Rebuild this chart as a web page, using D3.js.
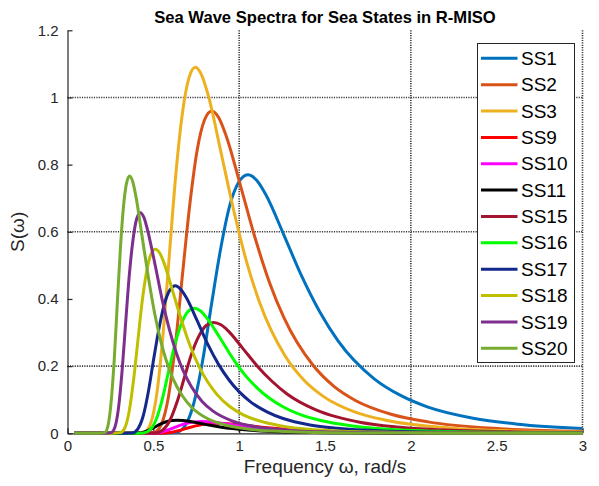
<!DOCTYPE html>
<html>
<head>
<meta charset="utf-8">
<script src="https://cdn.jsdelivr.net/npm/d3@7"></script>
<style>
  body { margin: 0; background: #fff; }
  svg { font-family: "Liberation Sans", Arial, sans-serif; }
</style>
</head>
<body>
<div id="chart"></div>
<script>
// [omega, S] pairs
let ss1 = [[0.04,0],[0.525,0],[0.63,0.002],[0.683,0.021],[0.735,0.088],[0.788,0.218],[0.84,0.388],[0.893,0.552],[0.945,0.678],[0.998,0.748],[1.05,0.77],[1.103,0.753],[1.155,0.711],[1.26,0.591],[1.365,0.467],[1.47,0.361],[1.575,0.276],[1.785,0.163],[1.943,0.112],[2.1,0.078],[2.363,0.045],[2.625,0.027],[3.0,0.014]];
let ss2 = [[0.04,0],[0.42,0],[0.504,0.003],[0.546,0.026],[0.588,0.109],[0.63,0.272],[0.672,0.484],[0.714,0.688],[0.756,0.845],[0.798,0.933],[0.84,0.96],[0.882,0.939],[0.924,0.886],[1.008,0.737],[1.092,0.583],[1.176,0.45],[1.26,0.345],[1.428,0.204],[1.554,0.139],[1.68,0.097],[1.89,0.056],[2.1,0.034],[2.52,0.0135],[2.94,0.0063],[3.0,0.0058]];
let ss3 = [[0.04,0],[0.373,0],[0.447,0.003],[0.484,0.029],[0.522,0.124],[0.559,0.308],[0.596,0.549],[0.633,0.782],[0.671,0.959],[0.708,1.059],[0.745,1.09],[0.782,1.066],[0.82,1.006],[0.894,0.837],[0.969,0.662],[1.043,0.511],[1.118,0.391],[1.267,0.231],[1.378,0.158],[1.49,0.11],[1.676,0.063],[1.863,0.038],[2.235,0.0154],[2.608,0.0072],[2.98,0.0037],[3.0,0.0036]];
let ss9 = [[0.04,0],[0.435,0],[0.522,0.0001],[0.566,0.0008],[0.609,0.0034],[0.653,0.0085],[0.696,0.0151],[0.74,0.0215],[0.783,0.0264],[0.827,0.0292],[0.87,0.03],[0.914,0.0293],[0.957,0.0277],[1.044,0.023],[1.131,0.0182],[1.218,0.0141],[1.305,0.0108],[1.479,0.0064],[1.61,0.0044],[1.74,0.003],[1.958,0.0017],[2.175,0.001],[2.61,0.0004],[3.0,0.0002]];
let ss10 = [[0.04,0],[0.39,0],[0.468,0.0001],[0.507,0.0009],[0.546,0.004],[0.585,0.0099],[0.624,0.0176],[0.663,0.0251],[0.702,0.0308],[0.741,0.034],[0.78,0.035],[0.819,0.0342],[0.858,0.0323],[0.936,0.0269],[1.014,0.0212],[1.092,0.0164],[1.17,0.0126],[1.326,0.0074],[1.443,0.0051],[1.56,0.0035],[1.755,0.002],[1.95,0.0012],[2.34,0.0005],[2.73,0.0002],[3.0,0.0001]];
let ss11 = [[0.04,0],[0.32,0],[0.384,0.0001],[0.416,0.001],[0.448,0.0044],[0.48,0.011],[0.512,0.0197],[0.544,0.028],[0.576,0.0343],[0.608,0.0379],[0.64,0.039],[0.672,0.0381],[0.704,0.036],[0.768,0.03],[0.832,0.0237],[0.896,0.0183],[0.96,0.014],[1.088,0.0083],[1.184,0.0057],[1.28,0.0039],[1.44,0.0023],[1.6,0.0014],[1.92,0.0005],[2.24,0.0003],[2.56,0.0001],[3.0,0]];
let ss15 = [[0.04,0],[0.426,0],[0.511,0.001],[0.553,0.009],[0.596,0.038],[0.638,0.093],[0.681,0.166],[0.723,0.237],[0.766,0.29],[0.808,0.321],[0.851,0.33],[0.894,0.323],[0.936,0.305],[1.021,0.253],[1.106,0.2],[1.191,0.155],[1.277,0.118],[1.447,0.07],[1.574,0.048],[1.702,0.033],[1.915,0.019],[2.128,0.0114],[2.553,0.0047],[2.979,0.0022],[3.0,0.0021]];
let ss16 = [[0.04,0],[0.369,0],[0.443,0.001],[0.48,0.01],[0.517,0.042],[0.554,0.105],[0.59,0.187],[0.627,0.267],[0.664,0.327],[0.701,0.362],[0.738,0.372],[0.775,0.364],[0.812,0.343],[0.886,0.286],[0.959,0.226],[1.033,0.174],[1.107,0.134],[1.255,0.079],[1.365,0.054],[1.476,0.038],[1.661,0.022],[1.845,0.013],[2.214,0.0052],[2.583,0.0025],[2.952,0.0013],[3.0,0.0012]];
let ss17 = [[0.04,0],[0.314,0],[0.377,0.001],[0.408,0.012],[0.44,0.05],[0.471,0.124],[0.502,0.221],[0.534,0.315],[0.565,0.386],[0.597,0.427],[0.628,0.439],[0.659,0.429],[0.691,0.405],[0.754,0.337],[0.816,0.266],[0.879,0.206],[0.942,0.158],[1.068,0.093],[1.162,0.064],[1.256,0.044],[1.413,0.025],[1.57,0.015],[1.884,0.0062],[2.198,0.0029],[2.512,0.0015],[3.0,0.0006]];
let ss18 = [[0.04,0],[0.256,0],[0.307,0.002],[0.333,0.015],[0.358,0.062],[0.384,0.155],[0.41,0.276],[0.435,0.393],[0.461,0.482],[0.486,0.533],[0.512,0.548],[0.538,0.536],[0.563,0.506],[0.614,0.421],[0.666,0.333],[0.717,0.257],[0.768,0.197],[0.87,0.116],[0.947,0.079],[1.024,0.055],[1.152,0.032],[1.28,0.019],[1.536,0.0077],[1.792,0.0036],[2.048,0.0019],[2.56,0.0006],[3.0,0.0003]];
let ss19 = [[0.04,0],[0.212,0],[0.254,0.002],[0.276,0.018],[0.297,0.075],[0.318,0.186],[0.339,0.331],[0.36,0.471],[0.382,0.578],[0.403,0.639],[0.424,0.657],[0.445,0.643],[0.466,0.606],[0.509,0.505],[0.551,0.399],[0.594,0.308],[0.636,0.236],[0.721,0.139],[0.784,0.095],[0.848,0.066],[0.954,0.038],[1.06,0.023],[1.272,0.0093],[1.484,0.0043],[1.696,0.0022],[2.12,0.0007],[2.544,0.0003],[3.0,0.0001]];
let ss20 = [[0.04,0],[0.181,0],[0.217,0.002],[0.235,0.021],[0.253,0.087],[0.272,0.217],[0.29,0.386],[0.308,0.549],[0.326,0.674],[0.344,0.745],[0.362,0.766],[0.38,0.749],[0.398,0.707],[0.434,0.588],[0.471,0.465],[0.507,0.359],[0.543,0.275],[0.615,0.162],[0.67,0.111],[0.724,0.077],[0.815,0.044],[0.905,0.027],[1.086,0.0108],[1.267,0.0051],[1.448,0.0026],[1.81,0.0008],[2.172,0.0004],[2.896,0.0001],[3.0,0.0001]];

let seriesNames = ["SS1","SS2","SS3","SS9","SS10","SS11","SS15","SS16","SS17","SS18","SS19","SS20"];
let seriesData = [ss1, ss2, ss3, ss9, ss10, ss11, ss15, ss16, ss17, ss18, ss19, ss20];
let seriesColors = ["#0072BD","#D95319","#EDB120","#FF0000","#FF00FF","#000000","#A2142F","#00FF00","#14288C","#BFBF00","#7E2F8E","#77AC30"];

let xTicks = [0, 0.5, 1, 1.5, 2, 2.5, 3];
let yTicks = [0, 0.2, 0.4, 0.6, 0.8, 1, 1.2];
let xGrid = [1, 2, 3];
let yGrid = [0.2, 0.6, 1];

let W = 599, H = 486;
let margin = {top: 30.3, right: 16.5, bottom: 52.7, left: 67.5},
    width = W - margin.left - margin.right,
    height = H - margin.top - margin.bottom;

let svg = d3.select("#chart")
            .append("svg")
                .attr("width", W)
                .attr("height", H);

let g = svg.append("g")
            .attr("transform", "translate(" + margin.left + "," + margin.top + ")");

let x = d3.scaleLinear().domain([0, 3]).range([0, width]);
let y = d3.scaleLinear().domain([0, 1.2]).range([height, 0]);

// dotted grid
g.selectAll("line.gx")
    .data(xGrid)
    .join("line")
        .attr("x1", d => x(d)).attr("x2", d => x(d))
        .attr("y1", 0).attr("y2", height)
        .attr("stroke", "#3a3a3a")
        .attr("stroke-width", 1.6)
        .attr("stroke-dasharray", "1.2,1.2");

g.selectAll("line.gy")
    .data(yGrid)
    .join("line")
        .attr("x1", 0).attr("x2", width)
        .attr("y1", d => y(d)).attr("y2", d => y(d))
        .attr("stroke", "#3a3a3a")
        .attr("stroke-width", 1.6)
        .attr("stroke-dasharray", "1.2,1.2");

// axes
let xAxis = g.append("g")
    .attr("transform", "translate(0," + height + ")")
    .call(d3.axisBottom(x).tickValues(xTicks).tickSizeInner(-5).tickSizeOuter(0).tickPadding(7).tickFormat(d3.format("")));

let yAxis = g.append("g")
    .call(d3.axisLeft(y).tickValues(yTicks).tickSizeInner(-5).tickSizeOuter(0).tickPadding(9).tickFormat(d3.format("")));

[xAxis, yAxis].forEach(a => {
    a.select(".domain").attr("stroke", "#262626").attr("stroke-width", 1.2);
    a.selectAll(".tick line").attr("stroke", "#262626").attr("stroke-width", 1.2);
    a.selectAll("text")
        .attr("fill", "#262626")
        .style("font-size", "15px")
        .style("font-family", "'Liberation Sans', Arial, sans-serif");
});

// curves
let line = d3.line()
    .x(d => x(d[0]))
    .y(d => y(d[1]))
    .curve(d3.curveMonotoneX);

g.selectAll("path.curve")
    .data(seriesData)
    .join("path")
        .attr("class", "curve")
        .attr("fill", "none")
        .attr("stroke", (d, i) => seriesColors[i])
        .attr("stroke-width", 3)
        .attr("stroke-linejoin", "round")
        .attr("d", line);

// title and labels
svg.append("text")
    .attr("x", margin.left + width / 2)
    .attr("y", 23)
    .attr("text-anchor", "middle")
    .style("font-size", "16.6px")
    .style("font-weight", "bold")
    .text("Sea Wave Spectra for Sea States in R-MISO");

svg.append("text")
    .attr("x", margin.left + width / 2)
    .attr("y", 473)
    .attr("text-anchor", "middle")
    .attr("fill", "#262626")
    .style("font-size", "19px")
    .text("Frequency ω, rad/s");

svg.append("text")
    .attr("transform", "translate(24," + (margin.top + height / 2) + ")rotate(-90)")
    .attr("text-anchor", "middle")
    .attr("fill", "#262626")
    .style("font-size", "19px")
    .text("S(ω)");

// legend
let legend = svg.append("g");
legend.append("rect")
    .attr("x", 477.5).attr("y", 43.5)
    .attr("width", 97).attr("height", 319)
    .attr("fill", "#fff")
    .attr("stroke", "#262626")
    .attr("stroke-width", 1);

let items = legend.selectAll("g.item")
    .data(seriesNames)
    .join("g")
        .attr("transform", (d, i) => "translate(0," + (58.3 + i * 26.36) + ")");

items.append("line")
    .attr("x1", 481).attr("x2", 517.5)
    .attr("y1", 0).attr("y2", 0)
    .attr("stroke", (d, i) => seriesColors[i])
    .attr("stroke-width", 3);

items.append("text")
    .attr("x", 521)
    .attr("dy", "0.35em")
    .style("font-size", "19px")
    .text(d => d);
</script>
</body>
</html>
